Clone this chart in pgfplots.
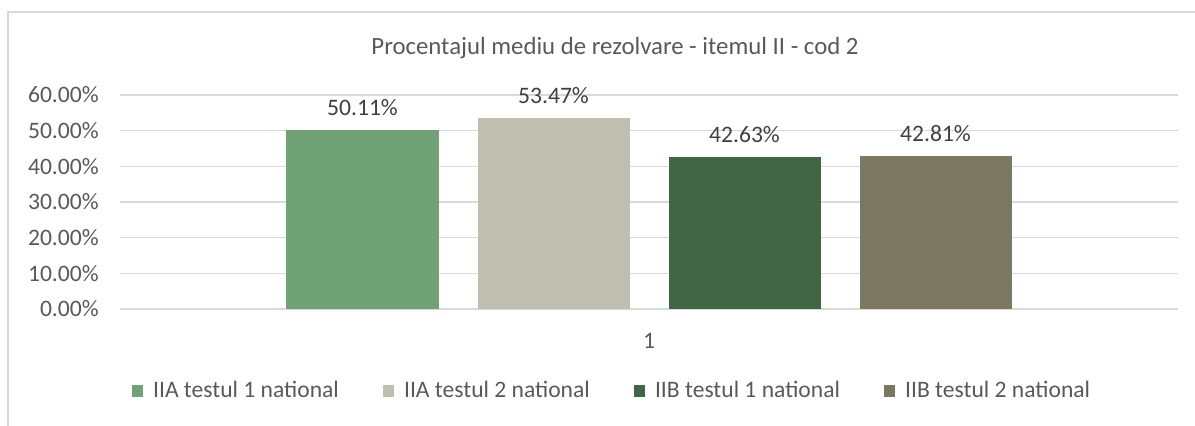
\documentclass[border=0pt]{standalone}
\usepackage{fontspec}
\setmainfont{Carlito}
\usepackage{pgfplots}
\pgfplotsset{compat=1.18}

\definecolor{barA}{HTML}{70A275}
\definecolor{barB}{HTML}{C0BFAF}
\definecolor{barC}{HTML}{416645}
\definecolor{barD}{HTML}{7A7861}
\definecolor{txt}{HTML}{595959}
\definecolor{lbl}{HTML}{404040}
\definecolor{gridc}{HTML}{D9D9D9}

\begin{document}
\begin{tikzpicture}
\fontsize{11.8bp}{14bp}\selectfont
% whole chart area (1195x426 px at 0.5bp per px)
\path[use as bounding box] (0,0) rectangle (597.5bp,213bp);
\draw[gridc, line width=0.6bp] (4bp,0) -- (4bp,207bp) -- (597.5bp,207bp);
\node[txt, font=\fontsize{12.4bp}{14bp}\selectfont] at (307.5bp,189bp) {Procentajul mediu de rezolvare - itemul II - cod 2};

\begin{axis}[
    at={(60bp,58.5bp)}, anchor=south west,
    scale only axis,
    width=529bp, height=107bp,
    ybar=19.5bp, bar width=76bp,
    xmin=-1, xmax=1,
    ymin=0, ymax=60,
    xtick={0}, xticklabels={1},
    ytick={0,10,20,30,40,50,60},
    yticklabel={\pgfmathprintnumber[fixed,fixed zerofill,precision=2]{\tick}\%},
    /pgf/number format/assume math mode=true,
    ticklabel style={font=\fontsize{11.8bp}{14bp}\selectfont, text=txt},
    yticklabel style={xshift=-6.5bp},
    xticklabel style={yshift=-8bp},
    axis line style={draw=none},
    major tick length=0pt,
    ymajorgrids, grid style={gridc, line width=0.8bp},
    nodes near coords={\pgfmathprintnumber[fixed,fixed zerofill,precision=2]{\pgfplotspointmeta}\%},
    nodes near coords style={font=\fontsize{11.8bp}{14bp}\selectfont, text=lbl, yshift=3bp},
    legend columns=4,
    legend style={at={(rel axis cs:0.466,-0.383)}, anchor=center, draw=none, fill=none,
        font=\fontsize{11.8bp}{14bp}\selectfont, text=txt,
        /tikz/every odd column/.append style={column sep=3bp},
        /tikz/every even column/.append style={column sep=20bp}},
    legend image code/.code={\fill[#1] (0bp,-2.8bp) rectangle (5.6bp,2.8bp);},
]
\addplot[fill=barA, draw=none] coordinates {(0,50.11)};
\addplot[fill=barB, draw=none] coordinates {(0,53.47)};
\addplot[fill=barC, draw=none] coordinates {(0,42.63)};
\addplot[fill=barD, draw=none] coordinates {(0,42.81)};
\legend{IIA testul 1 national, IIA testul 2 national, IIB testul 1 national, IIB testul 2 national}
\end{axis}
\end{tikzpicture}
\end{document}
